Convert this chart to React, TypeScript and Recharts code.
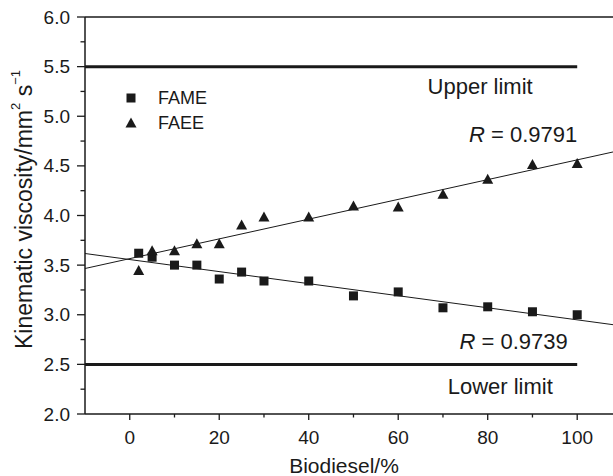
import React from "react";
import {
  ComposedChart,
  Scatter,
  XAxis,
  YAxis,
  ReferenceLine,
  ReferenceDot,
  Legend,
  Label,
} from "recharts";

const blendPercent = [2, 5, 10, 15, 20, 25, 30, 40, 50, 60, 70, 80, 90, 100];
const fameViscosity = [3.62, 3.58, 3.5, 3.5, 3.36, 3.43, 3.34, 3.34, 3.19, 3.23, 3.07, 3.08, 3.03, 3.0];
const faeeViscosity = [3.44, 3.64, 3.64, 3.71, 3.71, 3.9, 3.98, 3.98, 4.09, 4.08, 4.21, 4.36, 4.51, 4.52];

const fitX = [-10, 108];
const fameFitY = [3.617, 2.9];
const faeeFitY = [3.466, 4.64];

const limitX = [-10, 100];
const upperLimitY = [5.5, 5.5];
const lowerLimitY = [2.5, 2.5];

const xMajorTicks = [0, 20, 40, 60, 80, 100];
const xMinorTicks = [10, 30, 50, 70, 90];
const yMajorTicks = [2, 2.5, 3, 3.5, 4, 4.5, 5, 5.5, 6];
const yMinorTicks = [2.25, 2.75, 3.25, 3.75, 4.25, 4.75, 5.25, 5.75];

const fameData = blendPercent.map((x, i) => ({ x, y: fameViscosity[i] }));
const faeeData = blendPercent.map((x, i) => ({ x, y: faeeViscosity[i] }));
const fameFit = fitX.map((x, i) => ({ x, y: fameFitY[i] }));
const faeeFit = fitX.map((x, i) => ({ x, y: faeeFitY[i] }));
const upperLimit = limitX.map((x, i) => ({ x, y: upperLimitY[i] }));
const lowerLimit = limitX.map((x, i) => ({ x, y: lowerLimitY[i] }));

const FONT = "'Liberation Sans', Arial, Helvetica, sans-serif";
const INK = "#1a1a1a";

const SquareShape = (props: any) => {
  const { cx, cy } = props;
  if (cx == null || cy == null) return <g />;
  return <rect x={cx - 4.5} y={cy - 4.5} width={9} height={9} fill={INK} />;
};

const TriangleShape = (props: any) => {
  const { cx, cy } = props;
  if (cx == null || cy == null) return <g />;
  return (
    <polygon
      points={`${cx},${cy - 6} ${cx + 5.5},${cy + 4} ${cx - 5.5},${cy + 4}`}
      fill={INK}
    />
  );
};

const NoShape = () => <g />;

const YTick = (props: any) => {
  const { x, y, payload } = props;
  const major = yMajorTicks.includes(payload.value);
  return (
    <g>
      <line x1={x} y1={y} x2={x - (major ? 8 : 4.5)} y2={y} stroke={INK} strokeWidth={1.3} />
      {major && (
        <text
          x={x - 15}
          y={y}
          textAnchor="end"
          dominantBaseline="central"
          fontFamily={FONT}
          fontSize={19}
          fill={INK}
        >
          {payload.value.toFixed(1)}
        </text>
      )}
    </g>
  );
};

const XTick = (props: any) => {
  const { x, y, payload } = props;
  const major = xMajorTicks.includes(payload.value);
  return (
    <g>
      <line x1={x} y1={y} x2={x} y2={y + (major ? 6 : 3.5)} stroke={INK} strokeWidth={1.3} />
      {major && (
        <text
          x={x}
          y={y + 23}
          textAnchor="middle"
          dominantBaseline="central"
          fontFamily={FONT}
          fontSize={19}
          fill={INK}
        >
          {payload.value}
        </text>
      )}
    </g>
  );
};

const YTitle = (props: any) => {
  const { viewBox } = props;
  const cx = 24;
  const cy = viewBox.y + viewBox.height / 2 - 6;
  return (
    <text
      x={cx}
      y={cy}
      transform={`rotate(-90, ${cx}, ${cy})`}
      textAnchor="middle"
      dominantBaseline="central"
      fontFamily={FONT}
      fontSize={23}
      fill={INK}
    >
      Kinematic viscosity/mm
      <tspan fontSize={13} dy={-9}>2</tspan>
      <tspan dy={9}> s</tspan>
      <tspan fontSize={13} dy={-9}>−1</tspan>
    </text>
  );
};

const XTitle = (props: any) => {
  const { viewBox } = props;
  const cx = viewBox.x + viewBox.width / 2 - 5;
  const cy = viewBox.y + 51;
  return (
    <text
      x={cx}
      y={cy}
      textAnchor="middle"
      dominantBaseline="central"
      fontFamily={FONT}
      fontSize={21}
      fill={INK}
    >
      Biodiesel/%
    </text>
  );
};

const makeNote = (text: React.ReactNode) => (props: any) => {
  const { viewBox } = props;
  const cx = viewBox.x + (viewBox.width || 0) / 2;
  const cy = viewBox.y + (viewBox.height || 0) / 2;
  return (
    <text
      x={cx}
      y={cy}
      textAnchor="middle"
      dominantBaseline="central"
      fontFamily={FONT}
      fontSize={22}
      fill={INK}
    >
      {text}
    </text>
  );
};

const RText = (value: string) => (
  <>
    <tspan fontStyle="italic">R</tspan>
    <tspan> = {value}</tspan>
  </>
);

const LegendContent = () => (
  <div style={{ fontFamily: FONT, fontSize: 18, color: INK, lineHeight: "18px" }}>
    <div style={{ display: "flex", alignItems: "center", height: 25 }}>
      <svg width={14} height={14} style={{ marginRight: 20 }}>
        <rect x={2.5} y={2.5} width={9} height={9} fill={INK} />
      </svg>
      <span>FAME</span>
    </div>
    <div style={{ display: "flex", alignItems: "center", height: 25 }}>
      <svg width={14} height={14} style={{ marginRight: 20 }}>
        <polygon points="7,1.5 12.5,11.5 1.5,11.5" fill={INK} />
      </svg>
      <span>FAEE</span>
    </div>
  </div>
);

export default function App() {
  return (
    <div style={{ width: 613, height: 476, background: "#fff" }}>
      <style>{`body{margin:0;background:#fff}`}</style>
      <ComposedChart
        width={613}
        height={476}
        margin={{ top: 17, right: 0, bottom: 0, left: 0 }}
      >
        <XAxis
          dataKey="x"
          type="number"
          domain={[-10, 108]}
          allowDataOverflow
          ticks={[...xMajorTicks, ...xMinorTicks].sort((a, b) => a - b)}
          tick={<XTick />}
          tickLine={false}
          tickSize={0}
          tickMargin={0}
          height={62}
          axisLine={{ stroke: INK, strokeWidth: 1.5 }}
          interval={0}
        >
          <Label content={<XTitle />} />
        </XAxis>
        <YAxis
          dataKey="y"
          type="number"
          domain={[2, 6]}
          allowDataOverflow
          ticks={[...yMajorTicks, ...yMinorTicks].sort((a, b) => a - b)}
          tick={<YTick />}
          tickLine={false}
          tickSize={0}
          tickMargin={0}
          width={85}
          axisLine={{ stroke: INK, strokeWidth: 1.5 }}
          interval={0}
        >
          <Label content={<YTitle />} />
        </YAxis>
        <ReferenceLine y={6} stroke={INK} strokeWidth={1.5} ifOverflow="visible" />
        <Scatter data={upperLimit} line={{ stroke: INK, strokeWidth: 3 }} shape={NoShape} isAnimationActive={false} legendType="none" />
        <Scatter data={lowerLimit} line={{ stroke: INK, strokeWidth: 3 }} shape={NoShape} isAnimationActive={false} legendType="none" />
        <Scatter data={fameFit} line={{ stroke: INK, strokeWidth: 1 }} shape={NoShape} isAnimationActive={false} legendType="none" />
        <Scatter data={faeeFit} line={{ stroke: INK, strokeWidth: 1 }} shape={NoShape} isAnimationActive={false} legendType="none" />
        <Scatter name="FAME" data={fameData} shape={SquareShape} isAnimationActive={false} />
        <Scatter name="FAEE" data={faeeData} shape={TriangleShape} isAnimationActive={false} />
        <ReferenceDot x={78.3} y={5.3} r={0} ifOverflow="visible" label={{ content: makeNote("Upper limit") }} />
        <ReferenceDot x={87.9} y={4.824} r={0} ifOverflow="visible" label={{ content: makeNote(RText("0.9791")) }} />
        <ReferenceDot x={85.8} y={2.737} r={0} ifOverflow="visible" label={{ content: makeNote(RText("0.9739")) }} />
        <ReferenceDot x={82.8} y={2.273} r={0} ifOverflow="visible" label={{ content: makeNote("Lower limit") }} />
        <Legend
          layout="vertical"
          verticalAlign="middle"
          align="center"
          content={<LegendContent />}
          wrapperStyle={{ left: 124, top: 85, width: 100, height: 50 }}
        />
      </ComposedChart>
    </div>
  );
}
